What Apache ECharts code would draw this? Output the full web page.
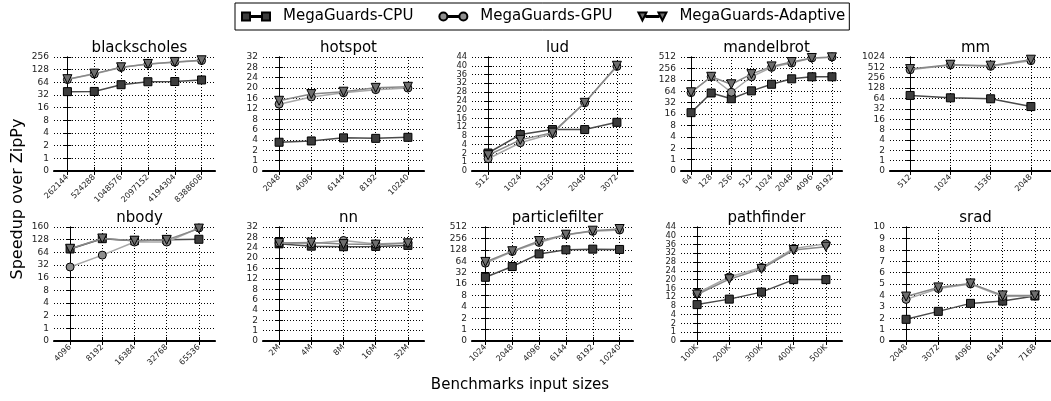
<!DOCTYPE html>
<html><head><meta charset="utf-8">
<script src="https://cdn.jsdelivr.net/npm/echarts@6/dist/echarts.min.js"></script>
<style>html,body{margin:0;padding:0;background:#fff}#c{width:1051px;height:401px}</style>
</head><body><div id="c"></div>
<script>
const seriesNames = ['MegaGuards-CPU', 'MegaGuards-GPU', 'MegaGuards-Adaptive'];
const benchmarkNames = ['blackscholes', 'hotspot', 'lud', 'mandelbrot', 'mm', 'nbody', 'nn', 'particlefilter', 'pathfinder', 'srad'];

const blackscholesSizes = ['262144', '524288', '1048576', '2097152', '4194304', '8388608'];
const blackscholesTicks = [0, 1, 2, 4, 8, 16, 32, 64, 128, 256];
const blackscholesCPU = [40.5, 41, 58, 67, 68, 76];
const blackscholesGPU = [78, 106, 150, 184, 204, 220];
const blackscholesAdaptive = [80, 108, 152, 186, 206, 223];

const hotspotSizes = ['2048', '4096', '6144', '8192', '10240'];
const hotspotTicks = [0, 1, 2, 4, 6, 8, 12, 16, 20, 24, 28, 32];
const hotspotCPU = [3.55, 3.8, 4.4, 4.3, 4.5];
const hotspotGPU = [13.8, 16.6, 18.2, 19.4, 20];
const hotspotAdaptive = [15.1, 17.7, 18.6, 20.1, 20.5];

const ludSizes = ['512', '1024', '1536', '2048', '3072'];
const ludTicks = [0, 1, 2, 4, 8, 12, 16, 20, 24, 28, 32, 36, 40, 44];
const ludCPU = [2.1, 8.6, 10.9, 10.9, 14.2];
const ludGPU = [1.4, 4.9, 9.1, 23.1, 39.7];
const ludAdaptive = [1.8, 6.2, 9.5, 23.1, 40];

const mandelbrotSizes = ['64', '128', '256', '512', '1024', '2048', '4096', '8192'];
const mandelbrotTicks = [0, 1, 2, 4, 8, 16, 32, 64, 128, 256, 512];
const mandelbrotCPU = [17.9, 59, 43, 66, 103, 139, 162, 162];
const mandelbrotGPU = [60, 162, 61, 162, 279, 376, 490, 512];
const mandelbrotAdaptive = [61, 162, 103, 192, 301, 399, 490, 505];

const mmSizes = ['512', '1024', '1536', '2048'];
const mmTicks = [0, 1, 2, 4, 8, 16, 32, 64, 128, 256, 512, 1024];
const mmCPU = [82.6, 68, 63, 39];
const mmGPU = [452, 628, 562, 842];
const mmAdaptive = [470, 640, 595, 890];

const nbodySizes = ['4096', '8192', '16384', '32768', '65536'];
const nbodyTicks = [0, 1, 2, 4, 8, 16, 32, 64, 128, 160];
const nbodyCPU = [81, 130.5, 123, 128, 129];
const nbodyGPU = [29.5, 57, 116, 116, 157.5];
const nbodyAdaptive = [82, 131, 123, 127, 156];

const nnSizes = ['2M', '4M', '8M', '16M', '32M'];
const nnTicks = [0, 1, 2, 4, 6, 8, 12, 16, 20, 24, 28, 32];
const nnCPU = [25.5, 24.6, 24.4, 24.5, 24.9];
const nnGPU = [25.8, 25.5, 26.8, 25.4, 25.9];
const nnAdaptive = [25.8, 26, 25.4, 25.2, 25.7];

const particlefilterSizes = ['1024', '2048', '4096', '6144', '8192', '10240'];
const particlefilterTicks = [0, 1, 2, 4, 8, 16, 32, 64, 128, 256, 512];
const particlefilterCPU = [25.4, 49, 105, 128, 135.5, 132];
const particlefilterGPU = [58.4, 118.6, 211, 339, 414, 444];
const particlefilterAdaptive = [62, 120, 226, 339, 429, 467];

const pathfinderSizes = ['100K', '200K', '300K', '400K', '500K'];
const pathfinderTicks = [0, 1, 2, 4, 8, 12, 16, 20, 24, 28, 32, 36, 40, 44];
const pathfinderCPU = [8.6, 11.1, 14.3, 20, 20];
const pathfinderGPU = [13.8, 21.2, 25.5, 34.2, 36.3];
const pathfinderAdaptive = [13.2, 20.2, 24.9, 33.5, 35];

const sradSizes = ['2048', '3072', '4096', '6144', '7168'];
const sradTicks = [0, 1, 2, 3, 4, 5, 6, 7, 8, 9, 10];
const sradCPU = [1.9, 2.6, 3.3, 3.5, 3.95];
const sradGPU = [3.65, 4.6, 5, 3.9, 3.95];
const sradAdaptive = [3.9, 4.7, 5.05, 4.0, 4.0];

const panels = [
  [blackscholesSizes, blackscholesTicks, blackscholesCPU, blackscholesGPU, blackscholesAdaptive],
  [hotspotSizes, hotspotTicks, hotspotCPU, hotspotGPU, hotspotAdaptive],
  [ludSizes, ludTicks, ludCPU, ludGPU, ludAdaptive],
  [mandelbrotSizes, mandelbrotTicks, mandelbrotCPU, mandelbrotGPU, mandelbrotAdaptive],
  [mmSizes, mmTicks, mmCPU, mmGPU, mmAdaptive],
  [nbodySizes, nbodyTicks, nbodyCPU, nbodyGPU, nbodyAdaptive],
  [nnSizes, nnTicks, nnCPU, nnGPU, nnAdaptive],
  [particlefilterSizes, particlefilterTicks, particlefilterCPU, particlefilterGPU, particlefilterAdaptive],
  [pathfinderSizes, pathfinderTicks, pathfinderCPU, pathfinderGPU, pathfinderAdaptive],
  [sradSizes, sradTicks, sradCPU, sradGPU, sradAdaptive]
];

// piecewise scale: ticks are evenly spaced on the axis
function toPos(v, ticks) {
  for (let i = 0; i < ticks.length - 1; i++) {
    if (v <= ticks[i + 1]) return i + (v - ticks[i]) / (ticks[i + 1] - ticks[i]);
  }
  const n = ticks.length - 1;
  return n - 1 + (v - ticks[n - 1]) / (ticks[n] - ticks[n - 1]);
}

const FONT = 'DejaVu Sans';
const styles = [
  { symbol: 'rect', size: 8, rotate: 0, fill: '#3c3c3c', line: '#4a4a4a' },
  { symbol: 'circle', size: 8, rotate: 0, fill: '#8e8e8e', line: '#a8a8a8' },
  { symbol: 'triangle', size: 9, rotate: 180, fill: '#6e6e6e', line: '#888888' }
];
const legendIcons = [
  'path://M0,0h8v8h-8z M8,3.5h12v1h-12z M20,0h8v8h-8z',
  'path://M0,4a4,4 0 1,0 8,0a4,4 0 1,0 -8,0z M8,3.5h12v1h-12z M20,4a4,4 0 1,0 8,0a4,4 0 1,0 -8,0z',
  'path://M0,0h8l-4,8z M8,3.5h12v1h-12z M20,0h8l-4,8z'
];

const grids = [], xAxes = [], yAxes = [], series = [], titles = [];
const gridLine = { show: true, lineStyle: { color: '#000', type: [1, 2], width: 1 } };
panels.forEach((p, i) => {
  const [sizes, ticks, cpu, gpu, ada] = p;
  const col = i % 5, row = Math.floor(i / 5);
  const left = 54 + 209 * col, width = 161;
  const top = row === 0 ? 57 : 227, height = 114;
  grids.push({ left, top, width, height, containLabel: false });
  titles.push({
    text: benchmarkNames[i], left: left + width / 2, top: top - 21, textAlign: 'center',
    textStyle: { fontFamily: FONT, fontSize: 15, fontWeight: 'normal', color: '#000' }
  });
  const idx = sizes.map((_, j) => j);
  const xmin = -0.5, xmax = sizes.length - 0.5;
  xAxes.push({
    type: 'value', gridIndex: i, position: 'bottom', min: xmin, max: xmax,
    axisLine: { show: true, lineStyle: { color: '#000', width: 2 } },
    axisTick: { show: true, inside: true, length: 4, customValues: idx, lineStyle: { color: '#000' } },
    axisLabel: {
      show: true, customValues: idx, rotate: 45, fontSize: 8, fontFamily: FONT, color: '#222', margin: 5,
      hideOverlap: false, formatter: v => sizes[Math.round(v)]
    },
    splitLine: gridLine
  });
  xAxes.push({
    type: 'value', gridIndex: i, position: 'top', min: xmin, max: xmax,
    axisLine: { show: true, lineStyle: { color: '#000', width: 1 } },
    axisTick: { show: true, inside: true, length: 4, customValues: idx, lineStyle: { color: '#000' } },
    axisLabel: { show: false }, splitLine: { show: false }
  });
  const n = ticks.length - 1;
  const step = height / n;
  const yFont = Math.min(9, Math.floor((step - 0.4) * 10) / 10);
  yAxes.push({
    type: 'value', gridIndex: i, position: 'left', min: 0, max: n, interval: 1,
    axisLine: { show: true, lineStyle: { color: '#000', width: 1 } },
    axisTick: { show: true, inside: true, length: 4, lineStyle: { color: '#000' } },
    axisLabel: {
      fontSize: yFont, fontFamily: FONT, color: '#222', margin: 5, showMinLabel: true, showMaxLabel: true,
      hideOverlap: false, formatter: v => String(ticks[Math.round(v)])
    },
    splitLine: gridLine
  });
  yAxes.push({
    type: 'value', gridIndex: i, position: 'right', min: 0, max: n, interval: 1,
    axisLine: { show: true, lineStyle: { color: '#000', width: 1 } },
    axisTick: { show: true, inside: true, length: 4, lineStyle: { color: '#000' } },
    axisLabel: { show: false }, splitLine: { show: false }
  });
  [cpu, gpu, ada].forEach((vals, k) => {
    const s = styles[k];
    series.push({
      type: 'line', name: seriesNames[k], xAxisIndex: 2 * i, yAxisIndex: 2 * i,
      data: vals.map((v, j) => [j, toPos(v, ticks)]),
      symbol: s.symbol, symbolSize: s.size, symbolRotate: s.rotate,
      itemStyle: { color: s.fill, borderColor: '#000', borderWidth: 1 },
      lineStyle: { color: s.line, width: 1.5 },
      clip: true, z: 2 + k, animation: false
    });
  });
});

const chart = echarts.init(document.getElementById('c'), null, { renderer: 'canvas' });
chart.setOption({
  animation: false,
  backgroundColor: '#fff',
  title: titles,
  grid: grids,
  xAxis: xAxes,
  yAxis: yAxes,
  series: series,
  legend: {
    data: seriesNames.map((nm, k) => ({ name: nm, icon: legendIcons[k] })),
    left: 235, top: 3, orient: 'horizontal',
    borderColor: '#000', borderWidth: 1, borderRadius: 0,
    padding: [6, 4, 6, 6], itemWidth: 28, itemHeight: 9, itemGap: 25,
    textStyle: { fontFamily: FONT, fontSize: 15, color: '#000', padding: [0, 0, 0, 8] },
    selectedMode: false
  },
  graphic: [
    { type: 'text', x: 18, y: 199, rotation: Math.PI / 2,
      style: { text: 'Speedup over ZipPy', fontFamily: FONT, fontSize: 16, fill: '#000', align: 'center', verticalAlign: 'middle' } },
    { type: 'text', x: 520, y: 385,
      style: { text: 'Benchmarks input sizes', fontFamily: FONT, fontSize: 15, fill: '#000', align: 'center', verticalAlign: 'middle' } }
  ]
});
</script></body></html>
